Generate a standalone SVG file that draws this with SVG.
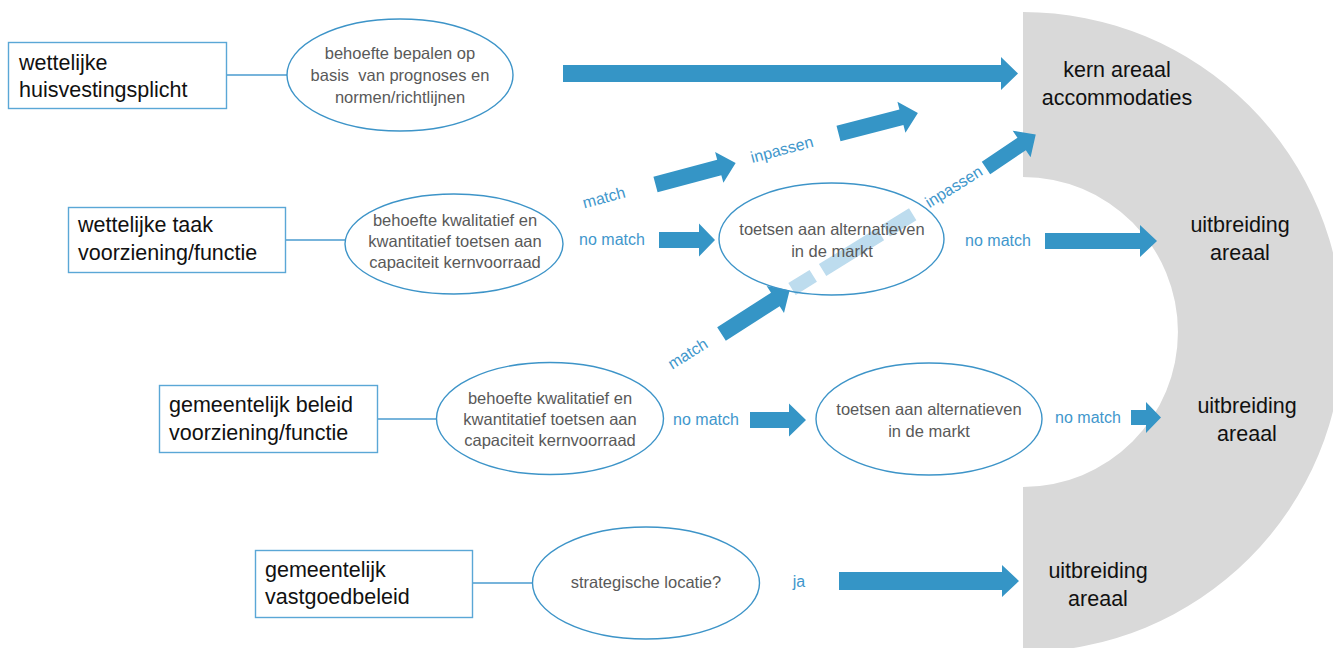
<svg xmlns="http://www.w3.org/2000/svg" width="1333" height="648" viewBox="0 0 1333 648">
<style>
  .box{fill:#fff;stroke:#5aa7d6;stroke-width:1.4}
  .ell{fill:none;stroke:#3d94c8;stroke-width:1.4}
  .bt{font-family:"Liberation Sans",Arial,sans-serif;font-size:21.5px;fill:#111}
  .et{font-family:"Liberation Sans",Arial,sans-serif;font-size:16.5px;fill:#595959;text-anchor:middle}
  .lb{font-family:"Liberation Sans",Arial,sans-serif;font-size:16px;fill:#3f97cc;text-anchor:middle}
  .at{font-family:"Liberation Sans",Arial,sans-serif;font-size:21.5px;fill:#111;text-anchor:middle}
  .arr{fill:#3595c6}
  .ln{stroke:#4a9bcf;stroke-width:1.4;fill:none}
</style>
<rect width="1333" height="648" fill="#fff"/>

<g id="areaal">
  <path d="M1023,12 A320,320 0 0 1 1023,652 L1023,487 A155,155 0 0 0 1023,177 Z" fill="#d9d9d9"/>
</g>

<g id="connectors">
  <line class="ln" x1="227" y1="75" x2="287" y2="75"/>
  <line class="ln" x1="286" y1="240" x2="345" y2="240"/>
  <line class="ln" x1="378" y1="419" x2="437" y2="419"/>
  <line class="ln" x1="473" y1="583" x2="533" y2="583"/>

  <!-- horizontal block arrows -->
  <path class="arr" d="M563,65 L1001,65 L1001,57 L1018,73.5 L1001,90 L1001,82 L563,82 Z"/>
  <path class="arr" d="M659,232 L699,232 L699,223.5 L715,240 L699,256.5 L699,248 L659,248 Z"/>
  <path class="arr" d="M1045,233 L1140,233 L1140,225 L1157,241 L1140,257 L1140,249 L1045,249 Z"/>
  <path class="arr" d="M750,412 L789,412 L789,403.5 L806,420 L789,436.5 L789,428 L750,428 Z"/>
  <path class="arr" d="M1131,410 L1146,410 L1146,402 L1161,417.5 L1146,433 L1146,425 L1131,425 Z"/>
  <path class="arr" d="M839,572 L1002,572 L1002,565 L1019,581 L1002,597 L1002,590 L839,590 Z"/>

  <!-- diagonal block arrows -->
  <path class="arr" transform="translate(655.5,184.5) rotate(-15)" d="M0,-8 L66,-8 L66,-16 L83,0 L66,16 L66,8 L0,8 Z"/>
  <path class="arr" transform="translate(838.5,133.5) rotate(-14.5)" d="M0,-8 L65,-8 L65,-16 L82,0 L65,16 L65,8 L0,8 Z"/>
  <path class="arr" transform="translate(986,168) rotate(-34)" d="M0,-7.5 L43,-7.5 L43,-16 L60,0 L43,16 L43,7.5 L0,7.5 Z"/>
  <path class="arr" transform="translate(721.5,334) rotate(-32.7)" d="M0,-8 L64,-8 L64,-16 L81,0 L64,16 L64,8 L0,8 Z"/>

  <!-- dashed light connector -->
  <line x1="792" y1="289" x2="913" y2="214" stroke="#bddcee" stroke-width="14" stroke-dasharray="25 11 68 7 31"/>

  <!-- labels -->
  <text class="lb" transform="translate(604,198) rotate(-15)" y="5">match</text>
  <text class="lb" transform="translate(782,150) rotate(-15)" y="5">inpassen</text>
  <text class="lb" transform="translate(954,187) rotate(-32)" y="5">inpassen</text>
  <text class="lb" transform="translate(688,354) rotate(-32)" y="5">match</text>
  <text class="lb" x="612" y="245">no match</text>
  <text class="lb" x="998" y="246">no match</text>
  <text class="lb" x="706" y="425">no match</text>
  <text class="lb" x="1088" y="423">no match</text>
  <text class="lb" x="799" y="587">ja</text>
</g>

<g id="n-wettelijke-huisvestingsplicht">
  <rect class="box" x="8.5" y="42.5" width="218" height="66"/>
  <text class="bt" x="19" y="70">wettelijke</text>
  <text class="bt" x="19" y="97">huisvestingsplicht</text>
</g>
<g id="n-behoefte-bepalen">
  <ellipse class="ell" cx="400" cy="75" rx="113" ry="56"/>
  <text class="et" x="400" y="59">behoefte bepalen op</text>
  <text class="et" x="400" y="81" xml:space="preserve">basis  van prognoses en</text>
  <text class="et" x="400" y="103">normen/richtlijnen</text>
</g>

<g id="n-wettelijke-taak">
  <rect class="box" x="68.5" y="207.5" width="217" height="65"/>
  <text class="bt" x="78" y="232">wettelijke taak</text>
  <text class="bt" x="78" y="260">voorziening/functie</text>
</g>
<g id="n-behoefte-toetsen-1">
  <ellipse class="ell" cx="454" cy="244" rx="109" ry="50"/>
  <text class="et" x="455" y="226">behoefte kwalitatief en</text>
  <text class="et" x="455" y="247">kwantitatief toetsen aan</text>
  <text class="et" x="455" y="268">capaciteit kernvoorraad</text>
</g>
<g id="n-toetsen-markt-1">
  <ellipse class="ell" cx="831.5" cy="239" rx="112.5" ry="56"/>
  <text class="et" x="832" y="235">toetsen aan alternatieven</text>
  <text class="et" x="832" y="257">in de markt</text>
</g>

<g id="n-gemeentelijk-beleid">
  <rect class="box" x="159.5" y="385.5" width="218" height="67"/>
  <text class="bt" x="169" y="412">gemeentelijk beleid</text>
  <text class="bt" x="169" y="440">voorziening/functie</text>
</g>
<g id="n-behoefte-toetsen-2">
  <ellipse class="ell" cx="550" cy="418.5" rx="113.5" ry="56"/>
  <text class="et" x="550" y="404">behoefte kwalitatief en</text>
  <text class="et" x="550" y="425">kwantitatief toetsen aan</text>
  <text class="et" x="550" y="446">capaciteit kernvoorraad</text>
</g>
<g id="n-toetsen-markt-2">
  <ellipse class="ell" cx="929" cy="419" rx="113" ry="56"/>
  <text class="et" x="929" y="415">toetsen aan alternatieven</text>
  <text class="et" x="929" y="437">in de markt</text>
</g>

<g id="n-gemeentelijk-vastgoedbeleid">
  <rect class="box" x="255.5" y="550.5" width="217" height="67"/>
  <text class="bt" x="265" y="577">gemeentelijk</text>
  <text class="bt" x="265" y="604">vastgoedbeleid</text>
</g>
<g id="n-strategische-locatie">
  <ellipse class="ell" cx="646" cy="583" rx="113.5" ry="56"/>
  <text class="et" x="646" y="588">strategische locatie?</text>
</g>

<g id="n-kern-areaal">
  <text class="at" x="1117" y="77">kern areaal</text>
  <text class="at" x="1117" y="105">accommodaties</text>
</g>
<g id="n-uitbreiding-1">
  <text class="at" x="1240" y="232">uitbreiding</text>
  <text class="at" x="1240" y="260">areaal</text>
</g>
<g id="n-uitbreiding-2">
  <text class="at" x="1247" y="413">uitbreiding</text>
  <text class="at" x="1247" y="441">areaal</text>
</g>
<g id="n-uitbreiding-3">
  <text class="at" x="1098" y="578">uitbreiding</text>
  <text class="at" x="1098" y="606">areaal</text>
</g>
</svg>
